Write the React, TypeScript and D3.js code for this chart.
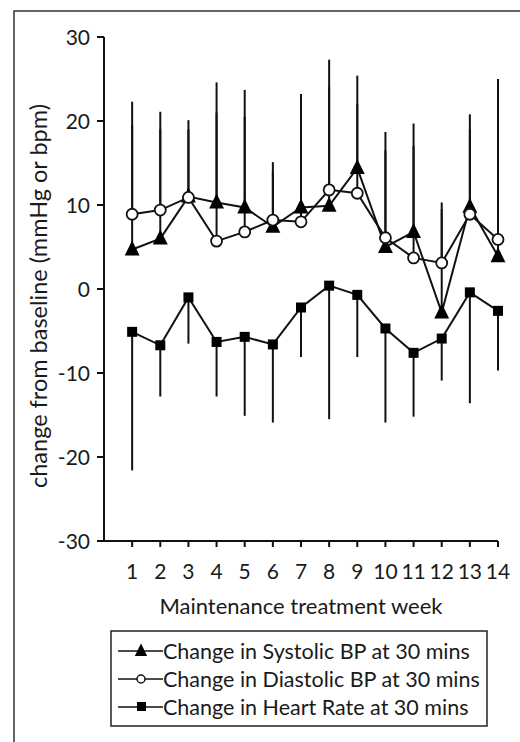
import React from "react";
import * as d3 from "d3";

const weeks = [1, 2, 3, 4, 5, 6, 7, 8, 9, 10, 11, 12, 13, 14];
const systolic = [4.7, 6.0, 11.0, 10.3, 9.7, 7.4, 9.7, 9.9, 14.4, 5.0, 6.8, -2.8, 9.8, 3.9];
const systolicUpper = [22.3, 21.1, 20.1, 24.6, 23.7, 15.1, 23.2, 27.3, 25.4, 18.7, 19.7, 10.3, 20.8, 25.0];
const diastolic = [8.9, 9.4, 10.9, 5.7, 6.8, 8.2, 8.0, 11.8, 11.4, 6.1, 3.7, 3.1, 8.9, 5.9];
const diastolicUpper = [19.5, 19.0, 19.0, 21.0, 20.5, 14.0, 20.0, 24.0, 22.0, 16.5, 17.0, 9.5, 19.0, 25.0];
const heartRate = [-5.1, -6.7, -1.0, -6.3, -5.7, -6.6, -2.2, 0.4, -0.7, -4.7, -7.6, -5.9, -0.4, -2.6];
const heartRateLower = [-21.6, -12.8, -6.5, -12.8, -15.1, -15.9, -8.1, -15.5, -8.1, -15.9, -15.2, -10.9, -13.6, -9.7];
const yTicks = [-30, -20, -10, 0, 10, 20, 30];
const legendLabels = [
  "Change in Systolic BP at 30 mins",
  "Change in Diastolic BP at 30 mins",
  "Change in Heart Rate at 30 mins",
];

const FONT = "Lato, 'Open Sans', sans-serif";

export default function App() {
  const W = 520;
  const H = 742;
  const x = d3.scaleLinear().domain([0, 14]).range([104, 498]);
  const y = d3.scaleLinear().domain([-30, 30]).range([541, 37]);
  const line = d3
    .line<number>()
    .x((_, i) => x(weeks[i]))
    .y((d) => y(d));

  const tri = (cx: number, cy: number, s: number) =>
    `M${cx},${cy - s * 0.75} L${cx + s * 0.62},${cy + s * 0.5} L${cx - s * 0.62},${cy + s * 0.5} Z`;

  const stroke = "#111";
  const textFill = "#1a1a1a";

  return (
    <svg
      width={W}
      height={H}
      style={{ position: "absolute", left: 0, top: 0, background: "#fff" }}
      fontFamily={FONT}
    >
      <rect x={14} y={11} width={540} height={760} fill="#fff" stroke="#333" strokeWidth={1.5} />

      {/* error bars */}
      {weeks.map((w, i) => (
        <line key={"su" + i} x1={x(w)} x2={x(w)} y1={y(systolic[i])} y2={y(systolicUpper[i])} stroke={stroke} strokeWidth={2} />
      ))}
      {weeks.map((w, i) => (
        <line key={"du" + i} x1={x(w)} x2={x(w)} y1={y(diastolic[i])} y2={y(diastolicUpper[i])} stroke={stroke} strokeWidth={2} />
      ))}
      {weeks.map((w, i) => (
        <line key={"hl" + i} x1={x(w)} x2={x(w)} y1={y(heartRate[i])} y2={y(heartRateLower[i])} stroke={stroke} strokeWidth={2} />
      ))}

      {/* axes */}
      <line x1={104} x2={104} y1={y(30)} y2={y(-30)} stroke={stroke} strokeWidth={2} />
      <line x1={104} x2={x(14)} y1={y(-30)} y2={y(-30)} stroke={stroke} strokeWidth={2} />
      {yTicks.map((t) => (
        <g key={"yt" + t}>
          <line x1={97} x2={104} y1={y(t)} y2={y(t)} stroke={stroke} strokeWidth={2} />
          <text x={90} y={y(t)} dy="0.36em" textAnchor="end" fontSize={21} fill={textFill}>
            {t}
          </text>
        </g>
      ))}
      {weeks.map((w) => (
        <g key={"xt" + w}>
          <line x1={x(w)} x2={x(w)} y1={y(-30)} y2={y(-30) + 6} stroke={stroke} strokeWidth={2} />
          <text x={x(w)} y={579} textAnchor="middle" fontSize={21} fill={textFill}>
            {w}
          </text>
        </g>
      ))}
      <text x={301} y={614} textAnchor="middle" fontSize={22} fill={textFill}>
        Maintenance treatment week
      </text>
      <text
        transform={`translate(47,296) rotate(-90)`}
        textAnchor="middle"
        fontSize={23.5}
        fill={textFill}
      >
        change from baseline (mmHg or bpm)
      </text>

      {/* series lines */}
      <path d={line(systolic) || ""} fill="none" stroke={stroke} strokeWidth={2} />
      <path d={line(diastolic) || ""} fill="none" stroke={stroke} strokeWidth={2} />
      <path d={line(heartRate) || ""} fill="none" stroke={stroke} strokeWidth={2} />

      {/* markers */}
      {weeks.map((w, i) => (
        <path key={"st" + i} d={tri(x(w), y(systolic[i]), 12)} fill="#000" />
      ))}
      {weeks.map((w, i) => (
        <circle key={"dc" + i} cx={x(w)} cy={y(diastolic[i])} r={5.5} fill="#fff" stroke={stroke} strokeWidth={1.8} />
      ))}
      {weeks.map((w, i) => (
        <rect key={"hs" + i} x={x(w) - 5} y={y(heartRate[i]) - 5} width={10} height={10} fill="#000" />
      ))}

      {/* legend */}
      <rect x={111} y={631} width={376} height={95} fill="#fff" stroke="#222" strokeWidth={1.5} />
      {legendLabels.map((lab, i) => {
        const cy = 651 + i * 28;
        return (
          <g key={"lg" + i}>
            <line x1={118} x2={163} y1={cy} y2={cy} stroke={stroke} strokeWidth={1.5} />
            {i === 0 && <path d={tri(141, cy, 10)} fill="#000" />}
            {i === 1 && <circle cx={141} cy={cy} r={4} fill="#fff" stroke={stroke} strokeWidth={1.5} />}
            {i === 2 && <rect x={137} y={cy - 5} width={9} height={9} fill="#000" />}
            <text x={163} y={cy} dy="0.36em" fontSize={21.5} fill={textFill}>
              {lab}
            </text>
          </g>
        );
      })}
    </svg>
  );
}
